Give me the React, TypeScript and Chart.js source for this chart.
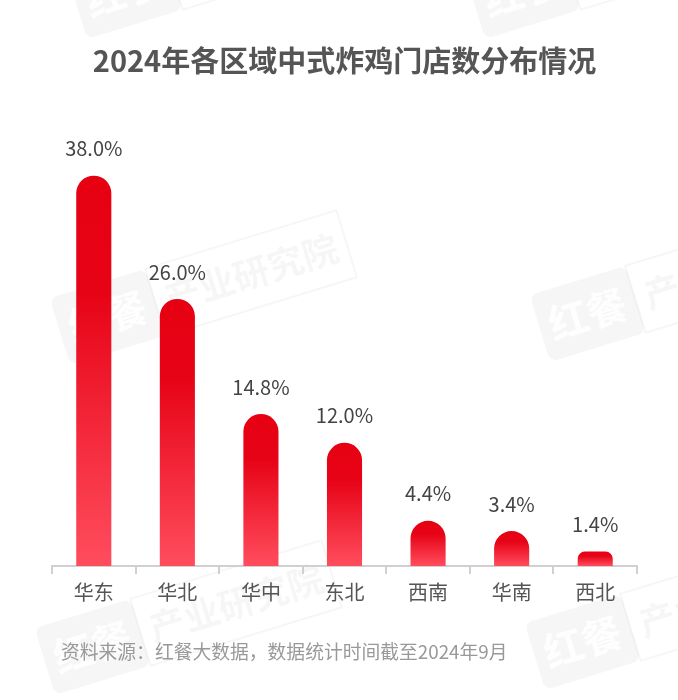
import React, { useEffect, useRef } from "react";
import { Chart, registerables } from "chart.js";

Chart.register(...registerables);

const categories = ["华东", "华北", "华中", "东北", "西南", "华南", "西北"];
const values = [38.0, 26.0, 14.8, 12.0, 4.4, 3.4, 1.4];
const titleText = "2024年各区域中式炸鸡门店数分布情况";
const sourceText = "资料来源：红餐大数据，数据统计时间截至2024年9月";

const FONT = "'Noto Sans CJK SC', 'Noto Sans', sans-serif";

const watermarkSpots = [
  [87, 39],
  [485, 39],
  [70, 365],
  [550, 362],
  [55, 695],
  [545, 690],
];

function drawLogo(ctx: CanvasRenderingContext2D, x: number, y: number) {
  ctx.save();
  ctx.translate(x, y);
  ctx.rotate((-17 * Math.PI) / 180);
  ctx.fillStyle = "rgba(0,0,0,0.035)";
  ctx.beginPath();
  (ctx as any).roundRect(0, -70, 100, 70, 8);
  ctx.fill();
  ctx.strokeStyle = "rgba(0,0,0,0.035)";
  ctx.lineWidth = 2;
  ctx.strokeRect(100, -70, 200, 70);
  ctx.textAlign = "center";
  ctx.textBaseline = "middle";
  ctx.font = `bold 40px ${FONT}`;
  ctx.fillStyle = "rgba(255,255,255,0.9)";
  ctx.fillText("红餐", 50, -35);
  ctx.font = `bold 36px ${FONT}`;
  ctx.fillStyle = "rgba(0,0,0,0.035)";
  ctx.fillText("产业研究院", 200, -35);
  ctx.restore();
}

const decorPlugin = {
  id: "decor",
  beforeDraw(chart: any) {
    const ctx = chart.ctx as CanvasRenderingContext2D;
    ctx.save();
    ctx.fillStyle = "#ffffff";
    ctx.fillRect(0, 0, chart.width, chart.height);
    ctx.restore();
    watermarkSpots.forEach(([x, y]) => drawLogo(ctx, x, y));
  },
  afterDatasetsDraw(chart: any) {
    const ctx = chart.ctx as CanvasRenderingContext2D;
    const meta = chart.getDatasetMeta(0);
    ctx.save();
    ctx.font = `20px ${FONT}`;
    ctx.fillStyle = "#444444";
    ctx.textAlign = "center";
    ctx.textBaseline = "middle";
    meta.data.forEach((el: any, i: number) => {
      ctx.fillText(values[i].toFixed(1) + "%", el.x, el.y - 27);
    });
    ctx.restore();
  },
  afterDraw(chart: any) {
    const ctx = chart.ctx as CanvasRenderingContext2D;
    ctx.save();
    ctx.font = `18.8px ${FONT}`;
    ctx.fillStyle = "#999999";
    ctx.textAlign = "left";
    ctx.textBaseline = "middle";
    ctx.fillText(sourceText, 61, 652);
    ctx.restore();
  },
};

export default function App() {
  const ref = useRef<HTMLCanvasElement | null>(null);

  useEffect(() => {
    if (!ref.current) return;
    const chart = new Chart(ref.current, {
      type: "bar",
      data: {
        labels: categories,
        datasets: [
          {
            data: values,
            backgroundColor: (c: any) => {
              const chart = c.chart;
              const y = chart.scales?.y;
              if (!y || c.dataIndex === undefined) return "#e60012";
              const top = y.getPixelForValue(values[c.dataIndex]);
              const bottom = y.getPixelForValue(0);
              if (!isFinite(top) || !isFinite(bottom) || bottom - top < 1) return "#e60012";
              const g = chart.ctx.createLinearGradient(0, top, 0, bottom);
              g.addColorStop(0, "#e60012");
              g.addColorStop(0.3, "#e70316");
              g.addColorStop(1, "#ff4d5e");
              return g;
            },
            borderRadius: { topLeft: 18, topRight: 18, bottomLeft: 0, bottomRight: 0 },
            borderSkipped: "bottom",
            barPercentage: 0.42,
            categoryPercentage: 1,
          },
        ],
      },
      options: {
        responsive: false,
        devicePixelRatio: 1,
        animation: false,
        layout: { padding: { left: 52, right: 41, top: 0, bottom: 90 } },
        plugins: {
          legend: { display: false },
          tooltip: { enabled: false },
          title: {
            display: true,
            text: titleText,
            color: "#555555",
            font: { size: 29, weight: "bold", family: FONT },
            padding: { top: 44, bottom: 24 },
          },
        },
        scales: {
          x: {
            grid: {
              display: true,
              drawOnChartArea: false,
              drawTicks: true,
              tickLength: 8,
              color: "#d0d0d0",
              lineWidth: 2,
              offset: true,
            },
            border: { display: true, color: "#d0d0d0", width: 2 },
            ticks: {
              color: "#555555",
              font: { size: 20, family: FONT },
              padding: 6,
              maxRotation: 0,
            },
          },
          y: {
            display: false,
            min: 0,
            max: 45.1,
          },
        },
      },
      plugins: [decorPlugin],
    });
    return () => chart.destroy();
  }, []);

  return (
    <div style={{ position: "absolute", left: 0, top: 0, width: 678, height: 700 }}>
      <canvas ref={ref} width={678} height={700} style={{ display: "block", width: 678, height: 700 }} />
    </div>
  );
}
